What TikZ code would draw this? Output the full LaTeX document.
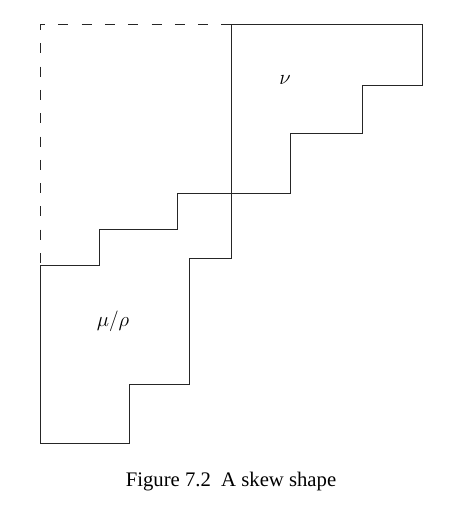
\documentclass[tikz,border=0pt]{standalone}
\usepackage{fontspec}
\setmainfont{Liberation Serif}
\begin{document}
\begin{tikzpicture}[x=1pt,y=-1pt]
\useasboundingbox (0,0) rectangle (464,527);
\tikzset{rim/.style={line width=1pt,black!85},
  dashrim/.style={rim,dash pattern=on 10pt off 13.3pt,dash phase=5pt}}
\draw[rim] (231,25) -- (422,25) -- (422,85) -- (362,85) -- (362,133) -- (290,133)
  -- (290,193) -- (177,193) -- (177,229) -- (99,229) -- (99,265) -- (40,265)
  -- (40,443) -- (129,443) -- (129,384) -- (189,384) -- (189,258) -- (231,258) -- cycle;
\coordinate (corner) at (40,25);
\draw[dashrim] (corner) -- (231,25);
\draw[dashrim] (corner) -- (40,265);
\node[font=\fontsize{22}{26}\selectfont] (nu) at (285,80) {$\nu$};
\node[font=\fontsize{22}{26}\selectfont] (murho) at (113,321) {$\mu/\rho$};
\node[font=\fontsize{20.7}{24}\selectfont,anchor=base] (caption) at (231,486) {Figure 7.2~~A skew shape};
\end{tikzpicture}
\end{document}
